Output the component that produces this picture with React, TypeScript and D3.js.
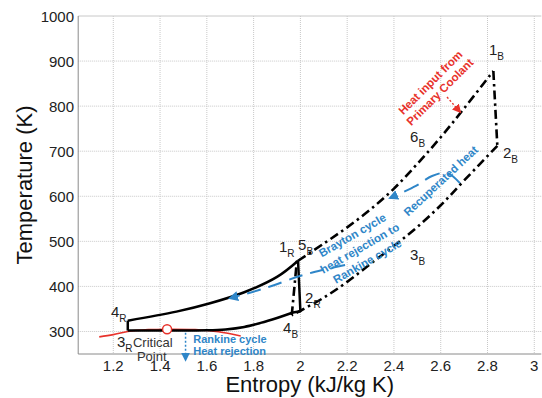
import React from "react";
import * as d3 from "d3";

const W = 542, H = 398;
const M = { left: 78.2, right: 541.3, top: 16, bottom: 354 };

const xTicks = [1.2, 1.4, 1.6, 1.8, 2, 2.2, 2.4, 2.6, 2.8, 3];
const yTicks = [300, 400, 500, 600, 700, 800, 900, 1000];

// Rankine cycle (solid)
const rankine3to4: [number, number][] = [[1.262, 302], [1.262, 324]];
const rankineUpper: [number, number][] = [[1.262, 324], [1.47, 344], [1.61, 362], [1.76, 387], [1.9, 421], [1.99, 457]];
const rankine1to2: [number, number][] = [[1.99, 457], [2.0, 345], [1.968, 342]];
const rankineLower: [number, number][] = [[1.968, 342], [1.9, 330], [1.83, 319], [1.76, 310], [1.68, 304.5], [1.6, 302.5], [1.45, 302], [1.262, 302]];

// Brayton cycle (dash-dot)
const braytonUpper: [number, number][] = [[1.99, 457], [2.1, 495], [2.2, 531], [2.3, 571], [2.4, 617], [2.5, 672], [2.6, 731], [2.7, 795], [2.825, 878]];
const brayton1to2: [number, number][] = [[2.825, 878], [2.842, 712]];
const braytonLower: [number, number][] = [[2.842, 712], [2.7, 635], [2.6, 580], [2.5, 532], [2.4, 490], [2.3, 450], [2.2, 410], [2.1, 375], [2.0, 346], [1.963, 336]];
const brayton4to5: [number, number][] = [[1.963, 336], [1.985, 457]];

// Saturation dome (red)
const dome: [number, number][] = [[1.14, 288], [1.2, 293], [1.262, 300], [1.35, 304], [1.43, 305], [1.55, 304], [1.65, 299.5], [1.745, 290]];
const criticalPoint: [number, number] = [1.43, 305];

// State labels
const stateLabels = [
  { n: "1", sub: "B", s: 2.806, t: 913 },
  { n: "2", sub: "B", s: 2.866, t: 685 },
  { n: "6", sub: "B", s: 2.469, t: 720 },
  { n: "3", sub: "B", s: 2.469, t: 458.6 },
  { n: "5", sub: "B", s: 1.99, t: 480.7 },
  { n: "1", sub: "R", s: 1.908, t: 476 },
  { n: "2", sub: "R", s: 2.02, t: 363 },
  { n: "4", sub: "B", s: 1.926, t: 296.6 },
  { n: "4", sub: "R", s: 1.19, t: 332 },
  { n: "3", sub: "R", s: 1.216, t: 265.5 },
];

const criticalText = [
  { text: "Critical", s: 1.284, t: 265.5 },
  { text: "Point", s: 1.301, t: 234.5 },
];

const rankineRejText = [
  { text: "Rankine cycle", s: 1.542, t: 274 },
  { text: "Heat rejection", s: 1.542, t: 247.5 },
];
const rankineRejArrow: [number, number][] = [[1.509, 297], [1.509, 237]];

const braytonRejText = { lines: ["Brayton cycle", "heat rejection to", "Rankine cycle"], s: 2.254, t: 484.6, angle: -30 };
const braytonRejArrow: [number, number][] = [[2.191, 447.5], [2.1, 437], [1.998, 423], [1.849, 396], [1.699, 374]];

const recupText = { lines: ["Recuperated heat"], s: 2.6, t: 634, angle: -43 };
const recupArrow: [number, number][] = [[2.682, 629], [2.627, 651.6], [2.563, 645], [2.494, 622.8], [2.383, 596]];

const heatInText = { lines: ["Heat input from", "Primary Coolant"], s: 2.576, t: 842, angle: -45 };
const heatInArrow: [number, number][] = [[2.627, 820], [2.683, 787]];

const BLUE = "#2f86c8";
const RED = "#e8322b";

export default function App() {
  const x = d3.scaleLinear().domain([1.05, 3.03]).range([M.left, M.right]);
  const y = d3.scaleLinear().domain([250, 1000]).range([M.bottom, M.top]);

  const straight = d3.line<[number, number]>().x(d => x(d[0])).y(d => y(d[1]));
  const smooth = d3.line<[number, number]>().x(d => x(d[0])).y(d => y(d[1])).curve(d3.curveCatmullRom.alpha(0.5));

  const dashDot = "9,4,2.5,4";
  const tickFont = "Liberation Sans, Arial, sans-serif";
  const annFont = "Liberation Sans, Arial, sans-serif";

  const rotBlock = (b: { lines: string[]; s: number; t: number; angle: number }, color: string, spacing: number, size: number) => {
    const cx = x(b.s), cy = y(b.t);
    const n = b.lines.length;
    return (
      <g transform={`translate(${cx},${cy}) rotate(${b.angle})`}>
        {b.lines.map((l, i) => (
          <text key={i} x={0} y={(i - (n - 1) / 2) * spacing} textAnchor="middle" dominantBaseline="central"
            fill={color} fontFamily={annFont} fontWeight="bold" fontSize={size}>{l}</text>
        ))}
      </g>
    );
  };

  return (
    <svg width={W} height={H} style={{ position: "absolute", left: 0, top: 0, background: "#fff" }}>
      <defs>
        <marker id="arrBlue" viewBox="0 0 10 10" refX="8" refY="5" markerWidth="5" markerHeight="5" orient="auto" markerUnits="strokeWidth">
          <path d="M0,0 L10,5 L0,10 z" fill={BLUE} />
        </marker>
        <marker id="arrBlueS" viewBox="0 0 10 10" refX="8" refY="5" markerWidth="6" markerHeight="6" orient="auto" markerUnits="strokeWidth">
          <path d="M0,0 L10,5 L0,10 z" fill={BLUE} />
        </marker>
        <marker id="arrRed" viewBox="0 0 10 10" refX="8" refY="5" markerWidth="6" markerHeight="6" orient="auto" markerUnits="strokeWidth">
          <path d="M0,0 L10,5 L0,10 z" fill={RED} />
        </marker>
      </defs>

      {/* grid */}
      {xTicks.map(v => (
        <line key={"gx" + v} x1={x(v)} x2={x(v)} y1={M.top} y2={M.bottom} stroke="#c8c8c8" strokeWidth={1} strokeDasharray="1,1" />
      ))}
      {yTicks.map(v => (
        <line key={"gy" + v} x1={M.left} x2={M.right} y1={y(v)} y2={y(v)} stroke="#c8c8c8" strokeWidth={1} strokeDasharray={v === 1000 ? undefined : "1,1"} />
      ))}
      {/* axes */}
      <line x1={M.left} x2={M.left} y1={M.top} y2={M.bottom} stroke="#8a8a8a" strokeWidth={1} />
      <line x1={M.left} x2={M.right} y1={M.bottom} y2={M.bottom} stroke="#8a8a8a" strokeWidth={1} />

      {xTicks.map(v => (
        <text key={"tx" + v} x={x(v)} y={371} textAnchor="middle" fontFamily={tickFont} fontSize={15} fill="#222">{String(v)}</text>
      ))}
      {yTicks.map(v => (
        <text key={"ty" + v} x={74} y={y(v)} textAnchor="end" dominantBaseline="central" fontFamily={tickFont} fontSize={15} fill="#222">{String(v)}</text>
      ))}

      <text x={(M.left + M.right) / 2} y={392} textAnchor="middle" fontFamily={tickFont} fontSize={22} fill="#111">Entropy (kJ/kg K)</text>
      <text transform={`translate(32,${(M.top + M.bottom) / 2}) rotate(-90)`} textAnchor="middle" fontFamily={tickFont} fontSize={22} fill="#111">Temperature (K)</text>

      {/* saturation dome */}
      <path d={smooth(dome) || ""} fill="none" stroke={RED} strokeWidth={1.6} />

      {/* Rankine */}
      <g fill="none" stroke="#000" strokeWidth={2.5} strokeLinejoin="round">
        <path d={straight(rankine3to4) || ""} />
        <path d={smooth(rankineUpper) || ""} />
        <path d={straight(rankine1to2) || ""} />
        <path d={smooth(rankineLower) || ""} />
      </g>

      {/* Brayton */}
      <g fill="none" stroke="#000" strokeWidth={2.6} strokeDasharray={dashDot}>
        <path d={smooth(braytonUpper) || ""} />
        <path d={straight(brayton1to2) || ""} />
        <path d={smooth(braytonLower) || ""} />
        <path d={straight(brayton4to5) || ""} />
      </g>

      <circle cx={x(criticalPoint[0])} cy={y(criticalPoint[1])} r={4.5} fill="#fff" stroke={RED} strokeWidth={1.4} />

      {/* state labels */}
      {stateLabels.map((l, i) => (
        <text key={"sl" + i} x={x(l.s)} y={y(l.t)} fontFamily={tickFont} fontSize={15} fill="#222">
          {l.n}<tspan fontSize={10} dy={5}>{l.sub}</tspan>
        </text>
      ))}
      {criticalText.map((c, i) => (
        <text key={"ct" + i} x={x(c.s)} y={y(c.t)} fontFamily={tickFont} fontSize={13} fill="#333">{c.text}</text>
      ))}

      {/* Rankine heat rejection */}
      {rankineRejText.map((c, i) => (
        <text key={"rr" + i} x={x(c.s)} y={y(c.t)} fontFamily={annFont} fontWeight="bold" fontSize={11} fill={BLUE}>{c.text}</text>
      ))}
      <path d={straight(rankineRejArrow) || ""} stroke={BLUE} strokeWidth={1.5} strokeDasharray="2,2" fill="none" markerEnd="url(#arrBlueS)" />

      {/* Brayton heat rejection */}
      {rotBlock(braytonRejText, BLUE, 15, 11.5)}
      <path d={smooth(braytonRejArrow) || ""} stroke={BLUE} strokeWidth={2} strokeDasharray="14,8" fill="none" markerEnd="url(#arrBlue)" />

      {/* Recuperated heat */}
      {rotBlock(recupText, BLUE, 14, 11.5)}
      <path d={smooth(recupArrow) || ""} stroke={BLUE} strokeWidth={2} strokeDasharray="16,8" fill="none" markerEnd="url(#arrBlue)" />

      {/* Heat input */}
      {rotBlock(heatInText, RED, 13.5, 11.5)}
      <path d={straight(heatInArrow) || ""} stroke={RED} strokeWidth={1.5} strokeDasharray="2,2" fill="none" markerEnd="url(#arrRed)" />
    </svg>
  );
}
